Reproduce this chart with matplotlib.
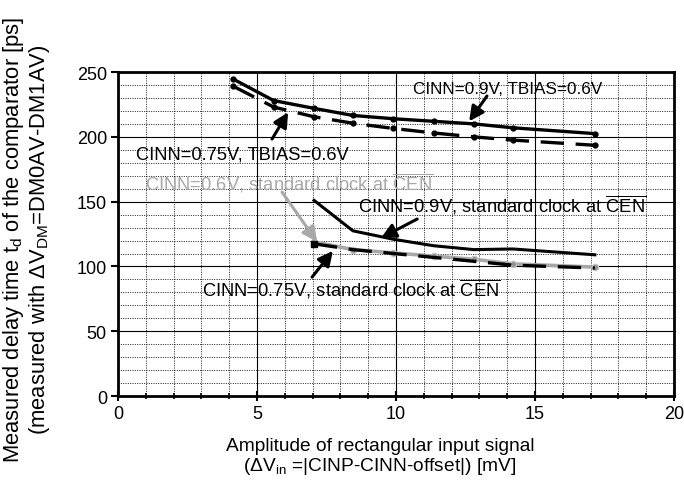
import matplotlib
matplotlib.use("Agg")
import matplotlib.pyplot as plt
from matplotlib.ticker import MultipleLocator

plt.rcParams['font.family'] = ['Liberation Sans', 'DejaVu Sans']
plt.rcParams['mathtext.fontset'] = 'custom'
plt.rcParams['mathtext.rm'] = 'Liberation Sans'
plt.rcParams['mathtext.it'] = 'Liberation Sans:italic'

# Input amplitude [mV]
amp = [4.15, 5.6, 7.05, 8.45, 9.9, 11.35, 12.8, 14.2, 17.15]
amp_std = [7.05, 8.45, 9.9, 11.35, 12.8, 14.2, 17.15]

# Delay time [ps]
td_09_tbias = [244.5, 228, 222, 216.5, 214, 212, 210, 207, 202.5]
td_075_tbias = [239, 223, 215.5, 210.5, 206.5, 203, 200, 197.5, 193.5]
td_09_std = [151, 127.5, 121, 116, 113, 113.5, 109]
td_06_std = [119, 113, 110.5, 108, 105.5, 102, 99.5]
td_075_std = [117.5, 113, 110, 107, 104, 101, 98.8]

fig = plt.figure(figsize=(6.84, 4.89), dpi=100)
ax = fig.add_axes([0.1725, 0.188, 0.813, 0.6626])

ax.set_xlim(0, 20)
ax.set_ylim(0, 250)
ax.xaxis.set_major_locator(MultipleLocator(5))
ax.xaxis.set_minor_locator(MultipleLocator(1))
ax.yaxis.set_major_locator(MultipleLocator(50))
ax.yaxis.set_minor_locator(MultipleLocator(10))

ax.grid(which='major', color='black', linewidth=0.8, linestyle='-')
ax.grid(which='minor', color='black', linewidth=0.6, linestyle=(0, (1.2, 1.6)))
ax.set_axisbelow(True)

for s in ax.spines.values():
    s.set_linewidth(2.0)

ax.tick_params(axis='x', which='major', direction='inout', length=7, width=1.5, labelsize=13, pad=3)
ax.tick_params(axis='x', which='minor', direction='inout', length=5, width=1.2)
ax.tick_params(axis='y', which='major', direction='out', length=5, width=1.5, labelsize=13, pad=3)
ax.tick_params(axis='y', which='minor', length=0)

dash = (0, (7, 3.5))

ax.plot(amp, td_09_tbias, color='black', lw=2.4, marker='o', ms=3.5, zorder=4)
ax.plot(amp, td_075_tbias, color='black', lw=2.4, ls=dash, marker='o', ms=3.5, zorder=4)
ax.plot(amp_std, td_09_std, color='black', lw=2.2, zorder=4)
ax.plot(amp_std, td_06_std, color='#a8a8a8', lw=2.6, marker='o', ms=4.5,
        mfc='#909090', mec='#c0c0c0', zorder=3)
ax.plot(amp_std, td_075_std, color='black', lw=2.4, ls=dash, zorder=4)
ax.plot(amp_std[:1], td_075_std[:1], color='black', marker='s', ms=4, zorder=5)

arrow_k = dict(arrowstyle='-|>', color='black', lw=2.2, mutation_scale=22, shrinkA=0, shrinkB=0)
arrow_g = dict(arrowstyle='-|>', color='#a8a8a8', lw=2.2, mutation_scale=22, shrinkA=0, shrinkB=0)
fs = 13.2

ax.text(14.0, 237.5, 'CINN=0.9V, TBIAS=0.6V', fontsize=12.3, ha='center', va='center', zorder=6)
ax.annotate('', xy=(12.63, 212), xytext=(13.27, 231.5), arrowprops=arrow_k, zorder=6)

ax.text(4.46, 186.5, 'CINN=0.75V, TBIAS=0.6V', fontsize=fs, ha='center', va='center', zorder=6)
ax.annotate('', xy=(6.12, 219), xytext=(5.54, 198.3), arrowprops=arrow_k, zorder=6)

ax.text(6.15, 165, r'CINN=0.6V, standard clock at $\overline{\mathrm{CEN}}$', fontsize=fs,
        ha='center', va='center', color='#a8a8a8', zorder=6)
ax.annotate('', xy=(7.16, 119), xytext=(5.9, 157.4), arrowprops=arrow_g, zorder=6)

ax.text(13.81, 148, r'CINN=0.9V, standard clock at $\overline{\mathrm{CEN}}$', fontsize=fs,
        ha='center', va='center', zorder=6)
ax.annotate('', xy=(9.46, 122), xytext=(10.76, 136.6), arrowprops=arrow_k, zorder=6)

ax.text(8.38, 83.5, r'CINN=0.75V, standard clock at $\overline{\mathrm{CEN}}$', fontsize=fs,
        ha='center', va='center', zorder=6)
ax.annotate('', xy=(7.73, 112), xytext=(6.98, 91.8), arrowprops=arrow_k, zorder=6)

ax.set_xlabel('Amplitude of rectangular input signal\n'
              r'($\Delta$V$_{\mathrm{in}}$ =|CINP-CINN-offset|) [mV]', fontsize=13.8,
              linespacing=1.1)
ax.xaxis.set_label_coords(0.471, -0.125)
ax.set_ylabel('Measured delay time t$_{\\mathrm{d}}$ of the comparator [ps]\n'
              r'(measured with $\mathit{\Delta}$V$_{\mathrm{DM}}$=DM0AV-DM1AV)', fontsize=15.8,
              linespacing=1.05)
ax.yaxis.set_label_coords(-0.119, 0.485)

fig.savefig('out.png', dpi=100)
